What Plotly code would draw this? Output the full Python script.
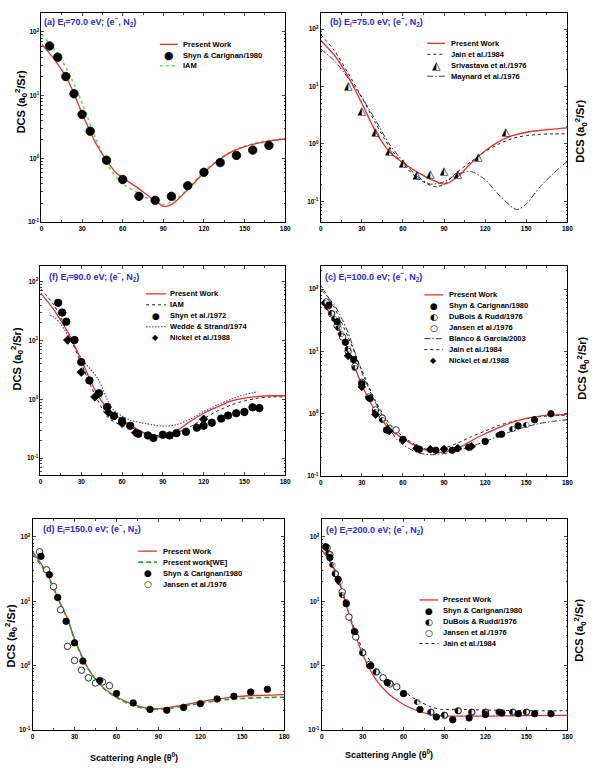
import plotly.graph_objects as go

W, H = 602, 768

# ---------------- DATA ----------------
# (a) 70 eV
a_pw_x = [0, 10, 20, 30, 40, 48, 55, 60, 70, 80, 90, 95, 100, 110, 120, 130, 140, 150, 160, 170, 180]
a_pw_y = [65, 36, 16.5, 5.2, 1.78, 0.95, 0.6, 0.5, 0.36, 0.25, 0.178, 0.185, 0.22, 0.36, 0.6, 0.92, 1.27, 1.55, 1.76, 1.93, 2.05]
a_iam_x = [0, 10, 20, 30, 40, 50, 60, 70, 80, 90, 100, 110, 120, 130, 140, 150, 160, 170, 180]
a_iam_y = [92, 52, 23, 7.6, 2.1, 0.72, 0.4, 0.3, 0.23, 0.19, 0.235, 0.37, 0.63, 0.95, 1.3, 1.58, 1.8, 1.97, 2.08]
a_shyn_x = [6, 12, 18, 24, 30, 36, 48, 60, 72, 84, 96, 108, 120, 132, 144, 156, 168]
a_shyn_y = [60, 40, 19.8, 10.6, 5.0, 2.72, 0.95, 0.47, 0.255, 0.221, 0.255, 0.375, 0.61, 0.87, 1.13, 1.37, 1.62]

# (b) 75 eV
b_pw_x = [0, 10, 20, 30, 40, 50, 60, 70, 80, 90, 100, 110, 120, 130, 140, 150, 160, 170, 180]
b_pw_y = [63, 35, 15, 5.1, 1.66, 0.74, 0.47, 0.33, 0.245, 0.2, 0.27, 0.47, 0.76, 1.1, 1.4, 1.6, 1.72, 1.82, 1.9]
b_jain_x = [0, 10, 20, 30, 40, 50, 60, 70, 80, 85, 90, 100, 110, 120, 130, 140, 150, 160, 170, 180]
b_jain_y = [80, 42, 17, 6.5, 2.3, 0.9, 0.45, 0.26, 0.19, 0.18, 0.2, 0.33, 0.5, 0.74, 1.0, 1.25, 1.4, 1.47, 1.5, 1.5]
b_may_x = [0, 10, 20, 30, 40, 50, 60, 70, 80, 90, 100, 110, 120, 130, 143, 150, 160, 170, 180]
b_may_y = [45, 28, 14, 6.5, 2.6, 1.0, 0.5, 0.28, 0.2, 0.22, 0.3, 0.33, 0.24, 0.13, 0.072, 0.09, 0.18, 0.31, 0.5]
b_sriv_x = [20, 30, 40, 50, 60, 70, 80, 90, 100, 115, 135]
b_sriv_y = [10, 3.76, 1.58, 0.74, 0.46, 0.29, 0.30, 0.33, 0.30, 0.59, 1.58]

# (f) 90 eV
f_pw_x = [0, 10, 20, 30, 40, 50, 60, 70, 80, 90, 100, 110, 120, 130, 140, 150, 160, 170, 180]
f_pw_y = [65, 33, 14, 4.7, 1.45, 0.66, 0.45, 0.32, 0.245, 0.23, 0.29, 0.42, 0.58, 0.74, 0.93, 1.05, 1.12, 1.15, 1.15]
f_iam_x = [0, 10, 20, 30, 40, 50, 60, 70, 80, 90, 100, 110, 120, 130, 140, 150, 160, 170, 180]
f_iam_y = [77, 40, 14, 4.1, 1.2, 0.48, 0.36, 0.31, 0.25, 0.24, 0.27, 0.34, 0.47, 0.63, 0.8, 0.94, 1.05, 1.1, 1.1]
f_wed_x = [7, 10, 15, 22, 30, 42, 50, 54, 60, 66, 78, 90, 100, 110, 120, 130, 140, 150, 160]
f_wed_y = [27, 25, 19, 10.5, 5.0, 2.3, 0.9, 0.65, 0.52, 0.44, 0.385, 0.35, 0.37, 0.46, 0.62, 0.8, 1.0, 1.2, 1.35]
f_shyn_x = [13, 16, 19, 25, 30, 36, 43, 49, 54, 60, 66, 72, 79, 83, 90, 95, 100, 107, 115, 120, 126, 133, 138, 144, 150, 156, 161]
f_shyn_y = [44, 30, 21, 10.2, 4.3, 2.1, 1.27, 0.74, 0.52, 0.43, 0.355, 0.26, 0.243, 0.22, 0.25, 0.243, 0.266, 0.28, 0.33, 0.355, 0.4, 0.47, 0.53, 0.58, 0.61, 0.73, 0.71]
f_nic_x = [20, 30, 40, 50, 60, 70, 120]
f_nic_y = [10.2, 2.9, 1.1, 0.6, 0.39, 0.27, 0.46]

# (c) 100 eV
c_pw_x = [0, 10, 20, 30, 40, 50, 60, 70, 80, 87, 95, 103, 110, 119, 130, 139, 150, 160, 170, 180]
c_pw_y = [62, 33, 10.5, 2.9, 1.1, 0.58, 0.4, 0.3, 0.25, 0.24, 0.26, 0.3, 0.37, 0.47, 0.6, 0.72, 0.84, 0.92, 0.96, 0.98]
c_bla_x = [0, 10, 15, 20, 30, 40, 50, 55, 60, 70, 80, 90, 100, 110, 120, 130, 140, 150, 160, 170, 180]
c_bla_y = [100, 55, 35, 20, 4.6, 1.5, 0.6, 0.4, 0.32, 0.24, 0.22, 0.23, 0.26, 0.3, 0.36, 0.44, 0.53, 0.62, 0.7, 0.76, 0.8]
c_jain_x = [0, 10, 20, 30, 40, 50, 60, 70, 80, 90, 100, 110, 120, 130, 140, 150, 160, 170, 180]
c_jain_y = [115, 50, 17, 5.0, 1.6, 0.7, 0.43, 0.31, 0.26, 0.28, 0.34, 0.43, 0.53, 0.65, 0.75, 0.83, 0.9, 0.93, 0.95]
c_shyn_x = [6, 12, 18, 24, 30, 36, 48, 60, 72, 84, 96, 108, 120, 132, 144, 156, 168]
c_shyn_y = [55, 30, 14, 7.4, 3.0, 1.75, 0.55, 0.39, 0.27, 0.26, 0.26, 0.29, 0.36, 0.47, 0.64, 0.8, 1.0]
c_dub_x = [3, 5, 8, 10, 13, 15, 20, 25, 30, 35, 40, 45, 50, 60, 70, 80, 90, 100, 110, 120, 130, 140, 150]
c_dub_y = [60, 52, 42, 33, 24, 19, 11, 5.5, 3.1, 1.8, 1.05, 0.8, 0.6, 0.38, 0.28, 0.26, 0.27, 0.27, 0.3, 0.36, 0.46, 0.56, 0.66]
c_jan_x = [4, 8, 12, 16, 20, 25, 30, 35, 40, 45, 55]
c_jan_y = [62, 40, 26, 17, 10, 5.8, 3.2, 1.85, 1.15, 0.85, 0.55]
c_nic_x = [20, 30, 40, 50, 60, 70, 80, 90, 100, 110]
c_nic_y = [8.5, 2.7, 0.97, 0.53, 0.38, 0.28, 0.27, 0.27, 0.28, 0.3]

# (d) 150 eV
d_pw_x = [0, 10, 20, 25, 30, 35, 40, 50, 60, 70, 80, 90, 100, 110, 120, 130, 140, 150, 160, 170, 180]
d_pw_y = [60, 28, 9.1, 5.4, 2.6, 1.45, 0.89, 0.47, 0.33, 0.26, 0.224, 0.216, 0.23, 0.25, 0.275, 0.3, 0.32, 0.336, 0.345, 0.35, 0.355]
d_we_y = [55, 27, 9.0, 5.3, 2.55, 1.42, 0.87, 0.46, 0.32, 0.25, 0.218, 0.21, 0.222, 0.24, 0.262, 0.283, 0.3, 0.31, 0.318, 0.322, 0.325]
d_shyn_x = [6, 12, 18, 24, 30, 36, 48, 60, 72, 84, 96, 108, 120, 132, 144, 156, 168]
d_shyn_y = [50, 26, 11.5, 4.9, 2.27, 1.18, 0.59, 0.37, 0.265, 0.21, 0.204, 0.225, 0.258, 0.305, 0.336, 0.39, 0.43]
d_jan_x = [5, 10, 15, 20, 25, 30, 35, 40, 45, 50, 55]
d_jan_y = [59, 31, 17, 7.4, 2.0, 1.21, 0.85, 0.65, 0.54, 0.56, 0.49]

# (e) 200 eV
e_pw_x = [0, 5, 10, 15, 20, 25, 30, 40, 50, 60, 70, 80, 90, 100, 120, 150, 180]
e_pw_y = [63, 45, 29, 15, 6.3, 2.9, 1.5, 0.6, 0.35, 0.25, 0.2, 0.175, 0.165, 0.165, 0.165, 0.168, 0.17]
e_jain_x = [5, 10, 20, 30, 40, 50, 60, 70, 80, 87, 100, 120, 150, 180]
e_jain_y = [60, 30, 6.5, 1.8, 0.9, 0.58, 0.4, 0.29, 0.23, 0.21, 0.21, 0.205, 0.2, 0.2]
e_shyn_x = [3, 6, 12, 18, 24, 36, 48, 60, 72, 84, 96, 108, 120, 132, 144, 156, 168]
e_shyn_y = [70, 48, 22, 9.2, 3.4, 1.0, 0.55, 0.37, 0.21, 0.16, 0.145, 0.155, 0.175, 0.185, 0.18, 0.18, 0.18]
e_dub_x = [3, 5, 8, 10, 13, 15, 18, 25, 30, 35, 40, 50, 60, 70, 80, 90, 100, 110, 120, 130, 140, 150]
e_dub_y = [72, 57, 37, 27, 20, 12.5, 9.8, 3.3, 1.6, 1.0, 0.8, 0.53, 0.36, 0.27, 0.19, 0.17, 0.2, 0.19, 0.19, 0.19, 0.19, 0.19]
e_jan_x = [4, 6, 10, 15, 20, 25, 30, 35, 40, 45, 50, 55, 80, 90, 100, 110, 120, 130, 140, 150]
e_jan_y = [68, 53, 27, 14, 5.7, 2.8, 1.6, 1.05, 0.8, 0.65, 0.52, 0.47, 0.19, 0.17, 0.2, 0.19, 0.19, 0.19, 0.19, 0.19]

x_ticks = [0, 30, 60, 90, 120, 150, 180]
y_ticks = [0.1, 1, 10, 100]
y_ticktext = ["10<sup>-1</sup>", "10<sup>0</sup>", "10<sup>1</sup>", "10<sup>2</sup>"]

# ---------------- STYLE ----------------
RED = "#e8302c"
FONT = "Liberation Sans, Arial, sans-serif"
GLYPH = "DejaVu Sans"
BLUE = "#2a2ad0"

fig = go.Figure()

# panel: id -> (axis index, box px (x0,x1,y0,y1), y log range)
panels = {
    "a": (1, (40, 287, 13, 223), (-1, 2.3)),
    "b": (2, (323, 573, 13, 223), (-1.36, 2.28)),
    "f": (3, (39, 287, 267, 477), (-1.29, 2.27)),
    "c": (4, (323, 573, 267, 478), (-1, 2.37)),
    "d": (5, (31, 286, 521, 733), (-1, 2.28)),
    "e": (6, (324, 573, 521, 733), (-1, 2.28)),
}


def ax_names(p):
    i = panels[p][0]
    return ("x" if i == 1 else "x%d" % i), ("y" if i == 1 else "y%d" % i)


def add_line(p, x, y, color, dash="solid", width=1.3):
    xa, ya = ax_names(p)
    fig.add_trace(go.Scatter(x=x, y=y, mode="lines", xaxis=xa, yaxis=ya,
                             line=dict(color=color, dash=dash, width=width, shape="spline", smoothing=0.7),
                             hoverinfo="skip"))


def add_marker(p, x, y, symbol="circle", size=7, fill="black", lw=0.8):
    xa, ya = ax_names(p)
    fig.add_trace(go.Scatter(x=x, y=y, mode="markers", xaxis=xa, yaxis=ya,
                             marker=dict(symbol=symbol, size=size, color=fill,
                                         line=dict(color="black", width=lw)),
                             hoverinfo="skip"))


def add_glyph(p, x, y, glyph, size=9):
    xa, ya = ax_names(p)
    fig.add_trace(go.Scatter(x=x, y=y, mode="text", xaxis=xa, yaxis=ya,
                             text=[glyph] * len(x), textposition="middle center",
                             textfont=dict(family=GLYPH, size=size, color="black"),
                             hoverinfo="skip"))


D_JAIN = "3px,3px"
D_DASHDOT = "6px,2px,1.5px,2px"

# (a)
add_line("a", a_iam_x, a_iam_y, "#66dd66", "3px,3px", 1.6)
add_line("a", a_pw_x, a_pw_y, RED)
add_marker("a", a_shyn_x, a_shyn_y, size=8.5)
# (b)
add_line("b", b_jain_x, b_jain_y, "black", D_JAIN, 0.9)
add_line("b", b_may_x, b_may_y, "black", D_DASHDOT, 0.8)
add_line("b", b_pw_x, b_pw_y, RED)
add_glyph("b", b_sriv_x, b_sriv_y, "◭", 11)
# (f)
add_line("f", f_iam_x, f_iam_y, "black", D_JAIN, 0.9)
add_line("f", f_wed_x, f_wed_y, "#3a3adf", "1.5px,1.5px", 1.1)
add_line("f", f_pw_x, f_pw_y, RED)
add_marker("f", f_shyn_x, f_shyn_y, size=7.5)
add_marker("f", f_nic_x, f_nic_y, symbol="diamond", size=6.5)
# (c)
add_line("c", c_bla_x, c_bla_y, "black", D_DASHDOT, 0.8)
add_line("c", c_jain_x, c_jain_y, "black", D_JAIN, 0.9)
add_line("c", c_pw_x, c_pw_y, RED)
add_marker("c", c_jan_x, c_jan_y, size=6.5, fill="white")
add_glyph("c", c_dub_x, c_dub_y, "◐", 8)
add_marker("c", c_shyn_x, c_shyn_y, size=6.5)
add_marker("c", c_nic_x, c_nic_y, symbol="diamond", size=6)
# (d)
add_line("d", d_pw_x, d_pw_y, RED)
add_line("d", d_pw_x, d_we_y, "#2e9e2e", "5px,3px", 1.6)
add_marker("d", d_jan_x, d_jan_y, size=6.5, fill="white")
add_marker("d", d_shyn_x, d_shyn_y, size=6.5)
# (e)
add_line("e", e_jain_x, e_jain_y, "black", D_JAIN, 0.9)
add_line("e", e_pw_x, e_pw_y, RED)
add_marker("e", e_jan_x, e_jan_y, size=6.5, fill="white")
add_glyph("e", e_dub_x, e_dub_y, "◐", 8)
add_marker("e", e_shyn_x, e_shyn_y, size=6.5)

# ---------------- AXES ----------------
minor_y = [m * 10 ** k for k in range(-2, 3) for m in range(2, 10)]
layout = dict(width=W, height=H, margin=dict(l=0, r=0, t=0, b=0),
              paper_bgcolor="white", plot_bgcolor="white", showlegend=False)
tickfont = dict(family=FONT, size=6.5, color="black", weight="bold")
for p, (i, (x0, x1, y0, y1), yr) in panels.items():
    sx = "" if i == 1 else str(i)
    layout["xaxis" + sx] = dict(domain=[x0 / W, x1 / W], anchor="y" + sx, range=[0, 180],
                                tickvals=x_ticks, ticks="inside", ticklen=3, tickwidth=0.8,
                                minor=dict(dtick=15, tick0=0, ticks="inside", ticklen=2, tickwidth=0.6),
                                showline=True, linecolor="black", linewidth=1, mirror="allticks",
                                showgrid=False, zeroline=False, tickfont=tickfont)
    layout["yaxis" + sx] = dict(domain=[1 - y1 / H, 1 - y0 / H], anchor="x" + sx, type="log",
                                range=list(yr), tickvals=y_ticks, ticktext=y_ticktext,
                                ticks="inside", ticklen=3, tickwidth=0.8,
                                minor=dict(tickvals=minor_y, ticks="inside", ticklen=1.5, tickwidth=0.6),
                                showline=True, linecolor="black", linewidth=1, mirror="allticks",
                                showgrid=False, zeroline=False, tickfont=tickfont)
fig.update_layout(**layout)

annotations = []
shapes = []


def px_ann(x, y, text, size, color="black", xanchor="left", angle=0, family=FONT, bold=True):
    annotations.append(dict(x=x / W, y=1 - y / H, xref="paper", yref="paper", text=text,
                            showarrow=False, xanchor=xanchor, yanchor="middle", textangle=angle,
                            font=dict(family=family, size=size, color=color,
                                      weight="bold" if bold else "normal")))


# panel titles
titles = [
    (41, 21.7, "(a) E<sub>i</sub>=70.0 eV; (e<sup>−</sup>, N<sub>2</sub>)"),
    (330, 21.7, "(b) E<sub>i</sub>=75.0 eV; (e<sup>−</sup>, N<sub>2</sub>)"),
    (46, 277.3, "(f) E<sub>i</sub>=90.0 eV; (e<sup>−</sup>, N<sub>2</sub>)"),
    (325.5, 277.3, "(c) E<sub>i</sub>=100.0 eV; (e<sup>−</sup>, N<sub>2</sub>)"),
    (40, 531, "(d) E<sub>i</sub>=150.0 eV; (e<sup>−</sup>, N<sub>2</sub>)"),
    (326.5, 532, "(e) E<sub>i</sub>=200.0 eV; (e<sup>−</sup>, N<sub>2</sub>)"),
]
for x, y, t in titles:
    px_ann(x, y, t, 9, BLUE)

# y axis titles
ytitle = "DCS (a<sub>0</sub><sup>2</sup>/Sr)"
for x, y in [(19, 102), (587, 132), (15, 360), (588, 370), (9, 638), (585, 633)]:
    px_ann(x, y, ytitle, 11, xanchor="center", angle=-90)

# x axis titles
for x, y in [(134, 760), (392, 757)]:
    px_ann(x, y, "Scattering Angle (θ<sup>0</sup>)", 9, xanchor="center")

# legends: (line x0, line x1, text x, [row y], entries)
LINE = "line"
legends = [
    (160, 178, 181, [44.5, 55.5, 66], [
        ("Present Work", LINE, (RED, "solid", 1.3)),
        ("Shyn & Carignan/1980", "●", 11),
        ("IAM", LINE, ("#66dd66", "3px,3px", 1.6))]),
    (431, 449, 453, [43.5, 54.5, 65.5, 76.5], [
        ("Present Work", LINE, (RED, "solid", 1.3)),
        ("Jain et al./1984", LINE, ("black", D_JAIN, 0.9)),
        ("Srivastava et al./1976", "◭", 11),
        ("Maynard et al./1976", LINE, ("black", D_DASHDOT, 0.8))]),
    (146, 166, 168, [295, 306, 317, 328, 339], [
        ("Present Work", LINE, (RED, "solid", 1.3)),
        ("IAM", LINE, ("black", D_JAIN, 0.9)),
        ("Shyn et al./1972", "●", 9),
        ("Wedde & Strand/1974", LINE, ("#3a3adf", "1.5px,1.5px", 1.1)),
        ("Nickel et al./1988", "◆", 8)]),
    (428, 447, 451, [296, 307, 318, 329, 340, 351, 362], [
        ("Present Work", LINE, (RED, "solid", 1.3)),
        ("Shyn & Carignan/1980", "●", 9),
        ("DuBois & Rudd/1976", "◐", 9),
        ("Jansen et al./1976", "○", 9),
        ("Blanco & Garcia/2003", LINE, ("black", D_DASHDOT, 0.8)),
        ("Jain et al./1984", LINE, ("black", D_JAIN, 0.9)),
        ("Nickel et al./1988", "◆", 8)]),
    (138, 157, 161, [553.3, 564.3, 575.3, 586.7], [
        ("Present Work", LINE, (RED, "solid", 1.3)),
        ("Present work[WE]", LINE, ("#2e9e2e", "5px,3px", 1.6)),
        ("Shyn & Carignan/1980", "●", 9),
        ("Jansen et al./1976", "○", 9)]),
    (423, 442, 445, [602.3, 613.3, 624.3, 635.3, 646], [
        ("Present Work", LINE, (RED, "solid", 1.3)),
        ("Shyn & Carignan/1980", "●", 9),
        ("DuBois & Rudd/1976", "◐", 9),
        ("Jansen et al./1976", "○", 9),
        ("Jain et al./1984", LINE, ("black", D_JAIN, 0.9))]),
]
for lx0, lx1, tx, ys, entries in legends:
    for y, (label, kind, prop) in zip(ys, entries):
        if kind == LINE:
            color, dash, width = prop
            shapes.append(dict(type="line", xref="paper", yref="paper",
                               x0=lx0 / W, x1=lx1 / W, y0=1 - y / H, y1=1 - y / H,
                               line=dict(color=color, dash=dash, width=width)))
        else:
            px_ann((lx0 + lx1) / 2, y, kind, prop, xanchor="center", family=GLYPH, bold=False)
        px_ann(tx, y, label, 7.5)

fig.update_layout(annotations=annotations, shapes=shapes)
fig.write_html("out.html")
